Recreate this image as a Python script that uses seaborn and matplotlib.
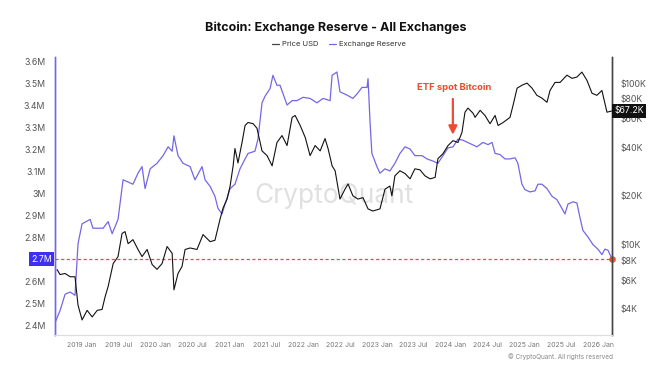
import numpy as np
import pandas as pd
import matplotlib
matplotlib.use("Agg")
import matplotlib.pyplot as plt
import matplotlib.dates as mdates
import matplotlib.ticker as mticker
import seaborn as sns
from matplotlib.lines import Line2D

# exchange reserve (BTC, millions)
reserve_dates = [
    "2018-08-20", "2018-09-14", "2018-10-09", "2018-11-03", "2018-11-27", "2018-12-12",
    "2019-01-01", "2019-02-10", "2019-02-24", "2019-04-15", "2019-05-10", "2019-05-30",
    "2019-06-28", "2019-07-23", "2019-08-17", "2019-09-10", "2019-10-05", "2019-10-25",
    "2019-11-09", "2019-12-04", "2020-01-07", "2020-02-06", "2020-03-02", "2020-03-22",
    "2020-03-31", "2020-04-20", "2020-05-15", "2020-06-19", "2020-07-13", "2020-08-17",
    "2020-09-01", "2020-09-26", "2020-10-20", "2020-11-04", "2020-11-24", "2020-12-09",
    "2021-01-03", "2021-01-27", "2021-02-21", "2021-03-18", "2021-04-02", "2021-05-06",
    "2021-05-21", "2021-06-10", "2021-06-25", "2021-07-20", "2021-08-03", "2021-08-23",
    "2021-09-07", "2021-10-12", "2021-11-06", "2021-11-30", "2021-12-30", "2022-02-03",
    "2022-03-09", "2022-04-08", "2022-05-13", "2022-05-23", "2022-06-16", "2022-07-01",
    "2022-08-05", "2022-09-03", "2022-09-23", "2022-10-18", "2022-11-12", "2022-11-17",
    "2022-11-27", "2022-12-06", "2022-12-31", "2023-01-15", "2023-02-09", "2023-03-05",
    "2023-03-30", "2023-04-24", "2023-05-19", "2023-06-13", "2023-07-07", "2023-08-11",
    "2023-09-05", "2023-10-05", "2023-10-29", "2023-11-23", "2023-12-18", "2024-01-12",
    "2024-02-05", "2024-03-01", "2024-04-05", "2024-05-09", "2024-06-08", "2024-07-03",
    "2024-07-23", "2024-08-07", "2024-08-31", "2024-09-25", "2024-10-20", "2024-11-14",
    "2024-11-28", "2024-12-18", "2025-01-02", "2025-01-27", "2025-02-21", "2025-03-07",
    "2025-03-27", "2025-04-21", "2025-05-16", "2025-06-09", "2025-07-04", "2025-07-19",
    "2025-08-03", "2025-08-28", "2025-09-16", "2025-10-01", "2025-10-16", "2025-11-10",
    "2025-12-05", "2025-12-29", "2026-01-18", "2026-02-02", "2026-02-17", "2026-03-09",
]
reserve_m = [
    2.41, 2.466, 2.54, 2.55, 2.535, 2.77,
    2.86, 2.88, 2.84, 2.84, 2.87, 2.815,
    2.88, 3.06, 3.05, 3.04, 3.09, 3.12,
    3.02, 3.11, 3.135, 3.17, 3.21, 3.19,
    3.26, 3.17, 3.135, 3.12, 3.06, 3.12,
    3.06, 3.03, 2.985, 2.93, 2.905, 2.95,
    3.02, 3.04, 3.11, 3.155, 3.18, 3.19,
    3.245, 3.41, 3.44, 3.475, 3.535, 3.49,
    3.49, 3.40, 3.42, 3.42, 3.435, 3.43,
    3.41, 3.43, 3.42, 3.535, 3.55, 3.46,
    3.445, 3.43, 3.45, 3.48, 3.48, 3.52,
    3.32, 3.18, 3.12, 3.09, 3.11, 3.10,
    3.135, 3.18, 3.21, 3.20, 3.17, 3.17,
    3.155, 3.145, 3.135, 3.17, 3.205, 3.21,
    3.245, 3.24, 3.225, 3.21, 3.23, 3.22,
    3.23, 3.18, 3.175, 3.155, 3.155, 3.16,
    3.135, 3.04, 3.015, 3.005, 3.01, 3.04,
    3.04, 3.02, 2.985, 2.97, 2.93, 2.905,
    2.95, 2.96, 2.955, 2.89, 2.83, 2.80,
    2.765, 2.745, 2.72, 2.745, 2.74, 2.70,
]

# BTC price (USD)
price_dates = [
    "2018-08-30", "2018-09-14", "2018-10-09", "2018-11-03", "2018-11-27", "2018-12-12",
    "2019-01-01", "2019-01-26", "2019-02-20", "2019-03-17", "2019-04-10", "2019-04-25",
    "2019-05-10", "2019-06-04", "2019-06-28", "2019-07-18", "2019-08-02", "2019-08-17",
    "2019-09-10", "2019-10-05", "2019-10-25", "2019-11-19", "2019-12-14", "2020-01-07",
    "2020-02-01", "2020-02-26", "2020-03-22", "2020-03-31", "2020-04-20", "2020-05-10",
    "2020-05-25", "2020-06-19", "2020-07-23", "2020-08-22", "2020-09-26", "2020-10-20",
    "2020-11-14", "2020-11-29", "2020-12-19", "2021-01-03", "2021-01-18", "2021-01-27",
    "2021-02-11", "2021-03-03", "2021-03-18", "2021-04-02", "2021-04-27", "2021-05-16",
    "2021-06-10", "2021-07-05", "2021-07-30", "2021-08-23", "2021-09-17", "2021-10-12",
    "2021-11-06", "2021-11-21", "2021-12-16", "2022-01-10", "2022-02-03", "2022-02-28",
    "2022-03-25", "2022-04-18", "2022-05-03", "2022-05-23", "2022-06-07", "2022-07-01",
    "2022-07-26", "2022-08-10", "2022-09-03", "2022-09-28", "2022-10-23", "2022-11-17",
    "2022-12-11", "2023-01-15", "2023-02-09", "2023-03-05", "2023-03-15", "2023-03-30",
    "2023-04-24", "2023-05-19", "2023-06-13", "2023-07-07", "2023-08-01", "2023-08-26",
    "2023-09-20", "2023-10-15", "2023-10-29", "2023-11-23", "2023-12-18", "2024-01-12",
    "2024-02-05", "2024-02-25", "2024-03-11", "2024-03-26", "2024-04-20", "2024-04-30",
    "2024-05-25", "2024-06-18", "2024-07-13", "2024-08-07", "2024-08-22", "2024-09-16",
    "2024-10-20", "2024-11-04", "2024-11-24", "2024-12-18", "2025-01-12", "2025-02-06",
    "2025-03-02", "2025-03-27", "2025-04-21", "2025-05-06", "2025-05-31", "2025-06-25",
    "2025-07-29", "2025-08-23", "2025-09-16", "2025-10-11", "2025-11-05", "2025-11-30",
    "2025-12-24", "2026-01-18", "2026-02-12", "2026-03-09",
]
price_usd = [
    6980, 6500, 6600, 6300, 6300, 4200,
    3400, 3900, 3550, 3900, 3950, 4730,
    5480, 7600, 8400, 11700, 12000, 10100,
    10700, 9300, 8400, 9300, 7500, 7000,
    7600, 9700, 8800, 5230, 6600, 7300,
    9300, 9500, 9300, 11500, 10400, 10600,
    14300, 16800, 19100, 23000, 30700, 39300,
    32000, 42800, 54600, 57000, 56000, 52500,
    38000, 35500, 30700, 42800, 47300, 41000,
    61300, 63000, 54600, 46000, 35500, 41000,
    38000, 45300, 39300, 30700, 28600, 19100,
    22000, 23700, 20000, 19100, 19500, 16600,
    16100, 16600, 22000, 23000, 20000, 26600,
    28600, 27500, 25500, 29400, 29000, 26600,
    25500, 26000, 34000, 36500, 41000, 44000,
    42800, 49400, 66000, 70000, 65000, 61300,
    67800, 63000, 56000, 63000, 54600, 57000,
    61300, 72800, 93000, 97000, 100000, 93000,
    84000, 80700, 76000, 90000, 101000, 101000,
    112000, 107000, 109000, 117000, 104000, 86500,
    84000, 90000, 66000, 67200,
]

reserve_ticks = [2.4, 2.5, 2.6, 2.8, 2.9, 3.0, 3.1, 3.2, 3.3, 3.4, 3.5, 3.6]
reserve_tick_labels = ["2.4M", "2.5M", "2.6M", "2.8M", "2.9M", "3M", "3.1M",
                       "3.2M", "3.3M", "3.4M", "3.5M", "3.6M"]
price_ticks = [4000, 6000, 8000, 10000, 20000, 40000, 60000, 80000, 100000]
price_tick_labels = ["$4K", "$6K", "$8K", "$10K", "$20K", "$40K", "$60K", "$80K", "$100K"]

current_reserve = 2.7
current_price = 67200
etf_date = "2024-01-11"

BLUE = "#7467e6"
BOX_BLUE = "#3f2ff0"
RED = "#f04a33"
TICK = "#555555"

sns.set_style("white")
plt.rcParams["font.family"] = ["Inter", "DejaVu Sans"]

res_df = pd.DataFrame({"date": pd.to_datetime(reserve_dates), "reserve": reserve_m})
px_df = pd.DataFrame({"date": pd.to_datetime(price_dates), "price": price_usd})

fig = plt.figure(figsize=(6.58, 3.83), dpi=100)
ax = fig.add_axes([0.0836, 0.125, 0.8465, 0.726])
ax2 = ax.twinx()

sns.lineplot(data=res_df, x="date", y="reserve", ax=ax, color=BLUE, linewidth=0.9)
sns.lineplot(data=px_df, x="date", y="price", ax=ax2, color="#111111", linewidth=0.8)

ax.set_xlim(pd.Timestamp("2018-08-20"), pd.Timestamp("2026-03-09"))
ax.set_ylim(2.354, 3.618)
ax2.set_yscale("log")
ax2.set_ylim(2738, 145000)

ax.set_yticks(reserve_ticks)
ax.set_yticklabels(reserve_tick_labels)
ax2.yaxis.set_minor_locator(mticker.NullLocator())
ax2.set_yticks(price_ticks)
ax2.set_yticklabels(price_tick_labels)

ax.xaxis.set_major_locator(mdates.MonthLocator(bymonth=[1, 7]))
ax.xaxis.set_major_formatter(mdates.DateFormatter("%Y %b"))

for a in (ax, ax2):
    a.set_xlabel("")
    a.set_ylabel("")
    a.tick_params(axis="both", length=0, labelsize=6.3, labelcolor=TICK)
ax.tick_params(axis="y", pad=7)
ax2.tick_params(axis="y", pad=6)
ax.tick_params(axis="x", pad=5, labelsize=5.0, labelcolor="#777777")

for a in (ax, ax2):
    a.spines["top"].set_visible(False)
    a.spines["bottom"].set_color("#dddddd")
    a.spines["left"].set_color(BLUE)
    a.spines["right"].set_color("#444444")
    a.spines["left"].set_linewidth(1.0)
    a.spines["right"].set_linewidth(1.0)

# current reserve level
ax.axhline(current_reserve, color=RED, linestyle=(0, (2.5, 2)), linewidth=0.9)
ax.scatter([1.0], [current_reserve], transform=ax.get_yaxis_transform(),
           color=RED, s=14, zorder=5, clip_on=False)
ax.text(-0.005, current_reserve, "2.7M", transform=ax.get_yaxis_transform(),
        ha="right", va="center", fontsize=6.3, color="white",
        bbox=dict(boxstyle="square,pad=0.25", fc=BOX_BLUE, ec="none"))
ax2.text(1.004, current_price, "$67.2K", transform=ax2.get_yaxis_transform(),
         ha="left", va="center", fontsize=6.3, color="white",
         bbox=dict(boxstyle="square,pad=0.25", fc="#111111", ec="none"))

# ETF annotation
ax2.annotate("", xy=(pd.Timestamp(etf_date), 46000), xytext=(pd.Timestamp(etf_date), 83000),
             arrowprops=dict(arrowstyle="-|>,head_width=0.25,head_length=0.5",
                             color=RED, lw=1.6))
ax2.text(pd.Timestamp("2024-01-20"), 94000, "ETF spot Bitcoin", color=RED,
         fontsize=6.8, fontweight="bold", ha="center", va="center")

# watermark
ax.text(0.5, 0.5, "CryptoQuant", transform=ax.transAxes, ha="center", va="center",
        fontsize=19, color="#d9d9d9", alpha=0.8, zorder=0)

fig.text(0.51, 0.927, "Bitcoin: Exchange Reserve - All Exchanges", ha="center", va="center",
         fontsize=9, fontweight="bold", color="#111111")
handles = [Line2D([], [], color="#444444", lw=0.9), Line2D([], [], color=BLUE, lw=0.9)]
fig.legend(handles, ["Price USD", "Exchange Reserve"], loc="center", bbox_to_anchor=(0.515, 0.885),
           ncol=2, frameon=False, fontsize=5.5, handlelength=0.9, handletextpad=0.4,
           columnspacing=1.4, labelcolor="#333333")
fig.text(0.932, 0.07, "\u00a9 CryptoQuant. All rights reserved", ha="right", va="center",
         fontsize=4.6, color="#888888")

fig.savefig("out.png", dpi=100)
